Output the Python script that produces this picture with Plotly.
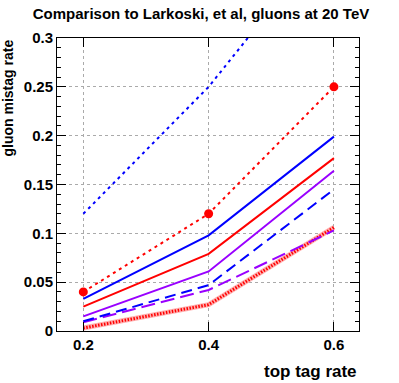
import plotly.graph_objects as go

top_tag_rate = [0.2, 0.4, 0.6]
blue_dotted = [0.12, 0.25, 0.41]
red_dotted_markers = [0.04, 0.12, 0.25]
blue_solid = [0.033, 0.098, 0.199]
red_solid = [0.025, 0.079, 0.177]
purple_solid = [0.015, 0.061, 0.164]
blue_dashed = [0.010, 0.047, 0.145]
purple_dashed = [0.009, 0.042, 0.103]
red_hatched = [0.003, 0.027, 0.106]

title_text = "Comparison to Larkoski, et al, gluons at 20 TeV"
x_title = "top tag rate"
y_title = "gluon mistag rate"
x_ticks = [0.2, 0.4, 0.6]
x_ticklabels = ["0.2", "0.4", "0.6"]
y_ticks = [0, 0.05, 0.1, 0.15, 0.2, 0.25, 0.3]
y_ticklabels = ["0", "0.05", "0.1", "0.15", "0.2", "0.25", "0.3"]

BLUE = "#0000ff"
RED = "#ff0000"
PURPLE = "#9900ff"
FONT = "Liberation Sans"

fig = go.Figure()

def add_line(y, color, width, dash="solid", mode="lines", marker=None):
    fig.add_trace(go.Scatter(x=top_tag_rate, y=y, mode=mode,
                             line=dict(color=color, width=width, dash=dash),
                             marker=marker, showlegend=False, hoverinfo="skip"))

add_line(red_hatched, "#ffb0b0", 5)
add_line(red_hatched, RED, 3, dash="1.5px,1.5px")
add_line(purple_dashed, PURPLE, 2, dash="14px,6px")
add_line(blue_dashed, BLUE, 2, dash="11px,6px")
add_line(purple_solid, PURPLE, 2)
add_line(red_solid, RED, 2)
add_line(blue_solid, BLUE, 2)
add_line(blue_dotted, BLUE, 2, dash="3px,4px")
add_line(red_dotted_markers, RED, 2, dash="3px,4px", mode="lines+markers",
         marker=dict(color=RED, size=9, symbol="circle"))

fig.update_layout(
    width=399, height=383,
    margin=dict(l=57, r=40, t=38, b=52, autoexpand=False),
    paper_bgcolor="white", plot_bgcolor="white",
    font=dict(family=FONT, size=14, color="black"),
    title=dict(text="<b>" + title_text + "</b>", x=201/399, xanchor="center",
               xref="container", y=1 - 14/383, yanchor="middle", yref="container",
               font=dict(size=15, family=FONT)),
)

fig.update_xaxes(
    range=[0.158, 0.64], tickvals=x_ticks,
    ticktext=["<b>" + t + "</b>" for t in x_ticklabels],
    ticks="inside", ticklen=9, tickcolor="black", mirror="allticks",
    showline=True, linecolor="black", linewidth=1, automargin=False,
    showgrid=True, gridcolor="#aaaaaa", griddash="dot", gridwidth=1,
    zeroline=False, tickfont=dict(size=15, family=FONT),
)
fig.update_yaxes(
    range=[0, 0.3], tickvals=y_ticks,
    ticktext=["<b>" + t + "</b>" for t in y_ticklabels],
    ticks="inside", ticklen=9, tickcolor="black", mirror="allticks",
    showline=True, linecolor="black", linewidth=1, automargin=False,
    showgrid=True, gridcolor="#aaaaaa", griddash="dot", gridwidth=1,
    zeroline=False, tickfont=dict(size=15, family=FONT),
    minor=dict(dtick=0.01, ticks="inside", ticklen=4, tickcolor="black", showgrid=False),
)

fig.add_annotation(text="<b>" + x_title + "</b>", xref="paper", yref="paper",
                   x=1, y=-0.1, xanchor="right", yanchor="top", showarrow=False,
                   font=dict(size=17, family=FONT))
fig.add_annotation(text="<b>" + y_title + "</b>", xref="paper", yref="paper",
                   x=0, y=1, xanchor="right", yanchor="top", textangle=-90,
                   showarrow=False, xshift=-40, font=dict(size=14, family=FONT))

fig.write_html("out.html", config={"displayModeBar": False},
               post_script="document.body.style.margin='0';document.body.style.overflow='hidden';")
